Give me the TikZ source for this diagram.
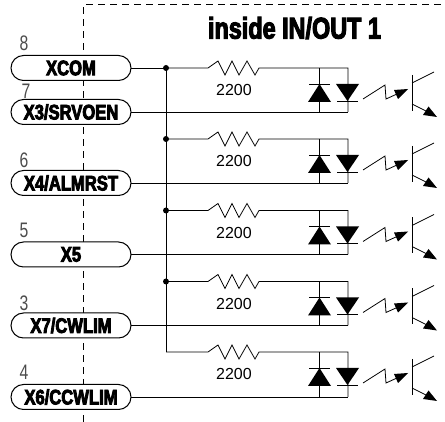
\documentclass[tikz,border=0pt]{standalone}
\usepackage{fontspec}
\usetikzlibrary{shapes.misc,calc}
\setmainfont{Liberation Sans}
\newfontfamily\pillfont[FakeStretch=0.79,FakeBold=4]{Liberation Sans Bold}
\newfontfamily\titlefont[FakeStretch=0.78,FakeBold=3.5]{Liberation Sans Bold}
\newfontfamily\numfont[FakeStretch=0.75]{Liberation Sans}
\definecolor{numgray}{gray}{0.3}
\tikzset{
  pill/.style={rounded rectangle,draw=black,fill=white,line width=1pt,minimum width=120pt,minimum height=25pt,inner sep=0pt,outer sep=0pt,font=\pillfont\fontsize{21}{21}\selectfont},
  pinno/.style={inner sep=0pt,text=numgray,font=\numfont\fontsize{21}{21}\selectfont},
  wire/.style={line width=0.8pt,line join=miter},
  dot/.style={circle,fill=black,inner sep=0pt,minimum size=6pt},
  frame/.style={line width=1pt,dash pattern=on 7pt off 5pt},
  val/.style={inner sep=0pt,font=\fontsize{16}{16}\selectfont},
  solid tri/.style={fill=black,draw=none}
}
\begin{document}
\begin{tikzpicture}[x=1pt,y=-1pt]
\useasboundingbox (0,0) rectangle (445,422);
\coordinate (fa) at (83,422);
\coordinate (fb) at (83,5);
\coordinate (fc) at (445,5);
\draw[frame] (fa) -- (fb) -- (fc);
\node[inner sep=0pt,font=\titlefont\fontsize{30}{30}\selectfont] (title) at (294.5,28) {inside IN/OUT 1};
\node[pill] (p1) at (71,68) {XCOM};
\node[pill] (p2) at (71,112) {X3/SRVOEN};
\node[pill] (p3) at (71,183) {X4/ALMRST};
\node[pill] (p4) at (71,254.5) {X5};
\node[pill] (p5) at (71,325.5) {X7/CWLIM};
\node[pill] (p6) at (71,397) {X6/CCWLIM};
\node[pinno] (n8) at (24,43) {8};
\node[pinno] (n7) at (26,91) {7};
\node[pinno] (n6) at (24,160) {6};
\node[pinno] (n5) at (24,230) {5};
\node[pinno] (n3) at (24,303) {3};
\node[pinno] (n4) at (24,372) {4};
\foreach \i/\t/\b/\pin in {1/68/112/p2,2/139/183/p3,3/210.5/254.5/p4,4/281.5/325.5/p5,5/352/397/p6}{
  \coordinate (bus\i) at (166,\t);
  \coordinate (rs\i) at (208,\t);
  \coordinate (re\i) at (262,\t);
  \coordinate (tr\i) at (348,\t);
  \coordinate (tl\i) at (319.5,\t);
  \coordinate (br\i) at (348,\b);
  \coordinate (bl\i) at (319.5,\b);
  \draw[wire] (bus\i) -- (rs\i) -- ($(rs\i)+(10,-7)$) -- ($(rs\i)+(17,7)$) -- ($(rs\i)+(24,-7)$) -- ($(rs\i)+(31,7)$) -- ($(rs\i)+(39,-7)$) -- ($(rs\i)+(47,7)$) -- ($(rs\i)+(51,0)$) -- (re\i) -- (tr\i) -- (br\i);
  \draw[wire] (\pin.east) -- (br\i);
  \draw[wire] (tl\i) -- (bl\i);
  \node[val] (r\i) at (234,\t+22) {2200};
  % input diodes
  \fill[solid tri] (308,\t+34) -- (331,\t+34) -- (319.5,\t+16) -- cycle;
  \draw[wire] (309,\t+16) -- (330,\t+16);
  \fill[solid tri] (336,\t+16) -- (359,\t+16) -- (347.5,\t+33) -- cycle;
  \draw[wire] (337,\t+33) -- (358,\t+33);
  % light ray
  \coordinate (lg\i) at (363,\t+31);
  \coordinate (lh\i) at (397,\t+26);
  \draw[wire] (lg\i) -- (385,\t+17) -- (386,\t+31) -- (lh\i);
  \fill[solid tri] (408,\t+21) -- (394,\t+22) -- (398,\t+31) -- cycle;
  % phototransistor
  \coordinate (qa\i) at (412,\t+7);
  \coordinate (qb\i) at (412,\t+43);
  \coordinate (qc\i) at (412,\t+15);
  \coordinate (qd\i) at (434,\t+4);
  \coordinate (qe\i) at (412,\t+36);
  \coordinate (qf\i) at (426,\t+43);
  \draw[line width=1pt] (qa\i) -- (qb\i);
  \draw[wire] (qc\i) -- (qd\i);
  \draw[wire] (qe\i) -- (qf\i);
  \fill[solid tri] (437,\t+49) -- (423,\t+47) -- (428.5,\t+38.5) -- cycle;
}
\draw[wire] (p1.east) -- (bus1);
\draw[wire] (bus1) -- (bus5);
\foreach \i in {1,2,3,4}{\node[dot] (d\i) at (bus\i) {};}
\end{tikzpicture}
\end{document}
